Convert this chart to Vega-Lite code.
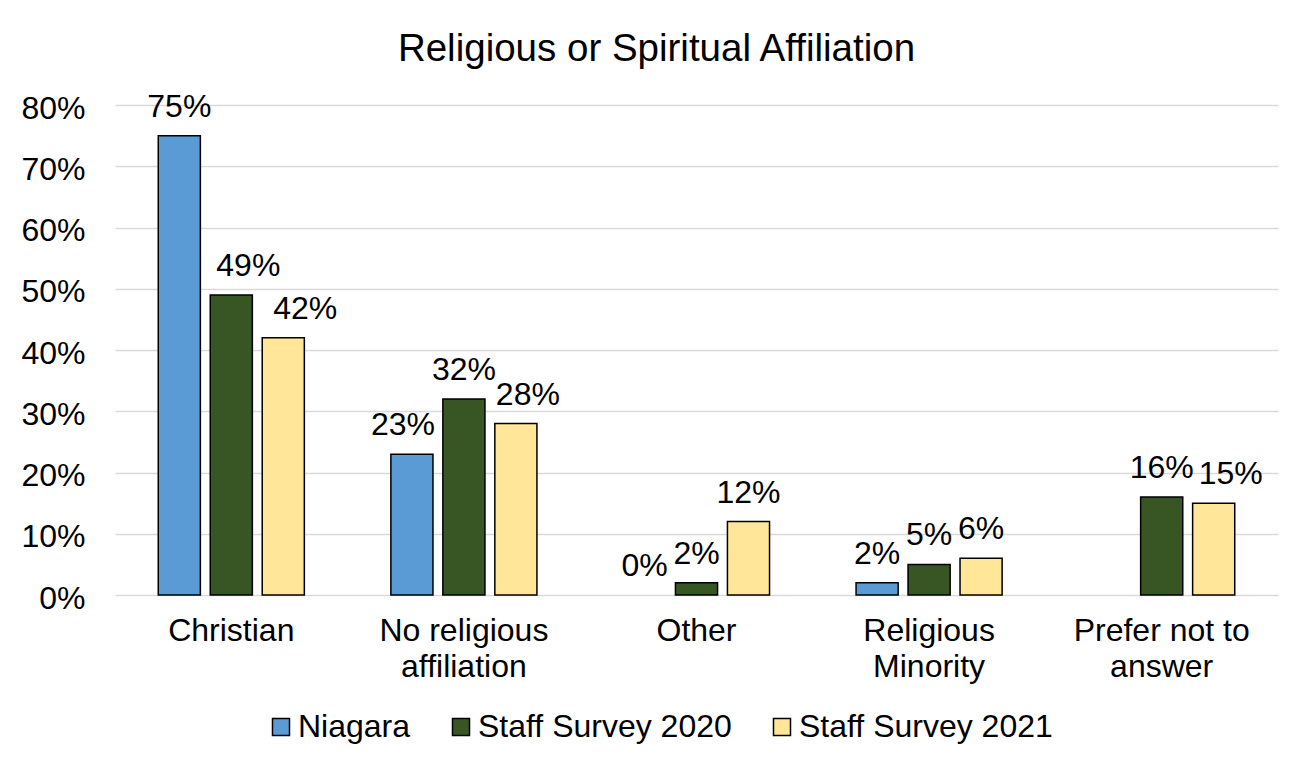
{
  "$schema": "https://vega.github.io/schema/vega-lite/v6.json",
  "width": 1163,
  "height": 490,
  "autosize": {"type": "none"},
  "padding": {"left": 115, "top": 105, "right": 29, "bottom": 173},
  "background": "white",
  "title": {
    "text": "Religious or Spiritual Affiliation",
    "font": "Liberation Sans",
    "fontSize": 38.5,
    "fontWeight": "normal",
    "color": "black",
    "anchor": "middle",
    "frame": "group",
    "dx": -40,
    "baseline": "alphabetic",
    "offset": -9
  },
  "data": {
    "values": [
      {"category": "Christian", "series": "Niagara", "value": 0.75},
      {"category": "Christian", "series": "Staff Survey 2020", "value": 0.49},
      {"category": "Christian", "series": "Staff Survey 2021", "value": 0.42},
      {"category": "No religious affiliation", "series": "Niagara", "value": 0.23},
      {"category": "No religious affiliation", "series": "Staff Survey 2020", "value": 0.32},
      {"category": "No religious affiliation", "series": "Staff Survey 2021", "value": 0.28},
      {"category": "Other", "series": "Niagara", "value": 0.0},
      {"category": "Other", "series": "Staff Survey 2020", "value": 0.02},
      {"category": "Other", "series": "Staff Survey 2021", "value": 0.12},
      {"category": "Religious Minority", "series": "Niagara", "value": 0.02},
      {"category": "Religious Minority", "series": "Staff Survey 2020", "value": 0.05},
      {"category": "Religious Minority", "series": "Staff Survey 2021", "value": 0.06},
      {"category": "Prefer not to answer", "series": "Staff Survey 2020", "value": 0.16},
      {"category": "Prefer not to answer", "series": "Staff Survey 2021", "value": 0.15}
    ]
  },
  "encoding": {
    "x": {
      "field": "category",
      "type": "nominal",
      "sort": ["Christian", "No religious affiliation", "Other", "Religious Minority", "Prefer not to answer"],
      "scale": {"paddingInner": 0.372, "paddingOuter": 0.186},
      "axis": {
        "title": null,
        "labelAngle": 0,
        "domain": false,
        "ticks": false,
        "tickSize": 0,
        "labelPadding": 20,
        "labelBaseline": "top",
        "labelFont": "Liberation Sans",
        "labelFontSize": 32,
        "labelColor": "black",
        "labelLineHeight": 36,
        "labelLimit": 400,
        "labelExpr": "datum.value == 'No religious affiliation' ? ['No religious', 'affiliation'] : datum.value == 'Religious Minority' ? ['Religious', 'Minority'] : datum.value == 'Prefer not to answer' ? ['Prefer not to', 'answer'] : datum.label"
      }
    },
    "xOffset": {
      "field": "series",
      "type": "nominal",
      "sort": ["Niagara", "Staff Survey 2020", "Staff Survey 2021"],
      "scale": {"paddingInner": 0.19, "paddingOuter": 0}
    },
    "y": {
      "field": "value",
      "type": "quantitative",
      "scale": {"domain": [0, 0.8], "nice": false},
      "axis": {
        "title": null,
        "format": ".0%",
        "values": [0, 0.1, 0.2, 0.3, 0.4, 0.5, 0.6, 0.7, 0.8],
        "domain": false,
        "ticks": false,
        "tickSize": 0,
        "labelPadding": 30,
        "labelOffset": 3,
        "labelFont": "Liberation Sans",
        "labelFontSize": 32,
        "labelColor": "black",
        "grid": true,
        "gridColor": "#D9D9D9",
        "gridWidth": 1.5
      }
    },
    "text": {"field": "value", "type": "quantitative", "format": ".0%"}
  },
  "layer": [
    {
      "mark": {"type": "bar", "stroke": "black"},
      "encoding": {
        "text": null,
        "color": {
          "field": "series",
          "type": "nominal",
          "scale": {
            "domain": ["Niagara", "Staff Survey 2020", "Staff Survey 2021"],
            "range": ["#5B9BD5", "#375623", "#FFE699"]
          },
          "legend": {
            "title": null,
            "orient": "none",
            "direction": "horizontal",
            "legendX": 150,
            "legendY": 606,
            "padding": 0,
            "symbolType": "square",
            "symbolSize": 289,
            "symbolStrokeColor": "black",
            "symbolStrokeWidth": 1.5,
            "labelFont": "Liberation Sans",
            "labelFontSize": 32,
            "labelColor": "black",
            "labelLimit": 400,
            "labelOffset": 1,
            "columnPadding": 34
          }
        },
        "strokeWidth": {
          "condition": {"test": "datum.value == 0", "value": 0},
          "value": 1.5
        }
      }
    },
    {
      "transform": [{"filter": "!((datum.category == 'Christian' && datum.series != 'Niagara') || (datum.category == 'No religious affiliation' && datum.series != 'Staff Survey 2020') || (datum.category == 'Prefer not to answer' && datum.series == 'Staff Survey 2021'))"}],
      "mark": {"type": "text", "baseline": "alphabetic", "dy": -19, "font": "Liberation Sans", "fontSize": 32, "color": "black"}
    },
    {
      "transform": [{"filter": "(datum.category == 'Christian' && datum.series == 'Staff Survey 2020') || (datum.category == 'Prefer not to answer' && datum.series == 'Staff Survey 2021')"}],
      "mark": {"type": "text", "baseline": "alphabetic", "dy": -19, "dx": 17, "font": "Liberation Sans", "fontSize": 32, "color": "black"}
    },
    {
      "transform": [{"filter": "datum.category == 'Christian' && datum.series == 'Staff Survey 2021'"}],
      "mark": {"type": "text", "baseline": "alphabetic", "dy": -19, "dx": 22, "font": "Liberation Sans", "fontSize": 32, "color": "black"}
    },
    {
      "transform": [{"filter": "datum.category == 'No religious affiliation' && datum.series == 'Staff Survey 2021'"}],
      "mark": {"type": "text", "baseline": "alphabetic", "dy": -19, "dx": 12, "font": "Liberation Sans", "fontSize": 32, "color": "black"}
    },
    {
      "transform": [{"filter": "datum.category == 'No religious affiliation' && datum.series == 'Niagara'"}],
      "mark": {"type": "text", "baseline": "alphabetic", "dy": -19, "dx": -9, "font": "Liberation Sans", "fontSize": 32, "color": "black"}
    }
  ],
  "config": {
    "view": {"stroke": null}
  }
}
